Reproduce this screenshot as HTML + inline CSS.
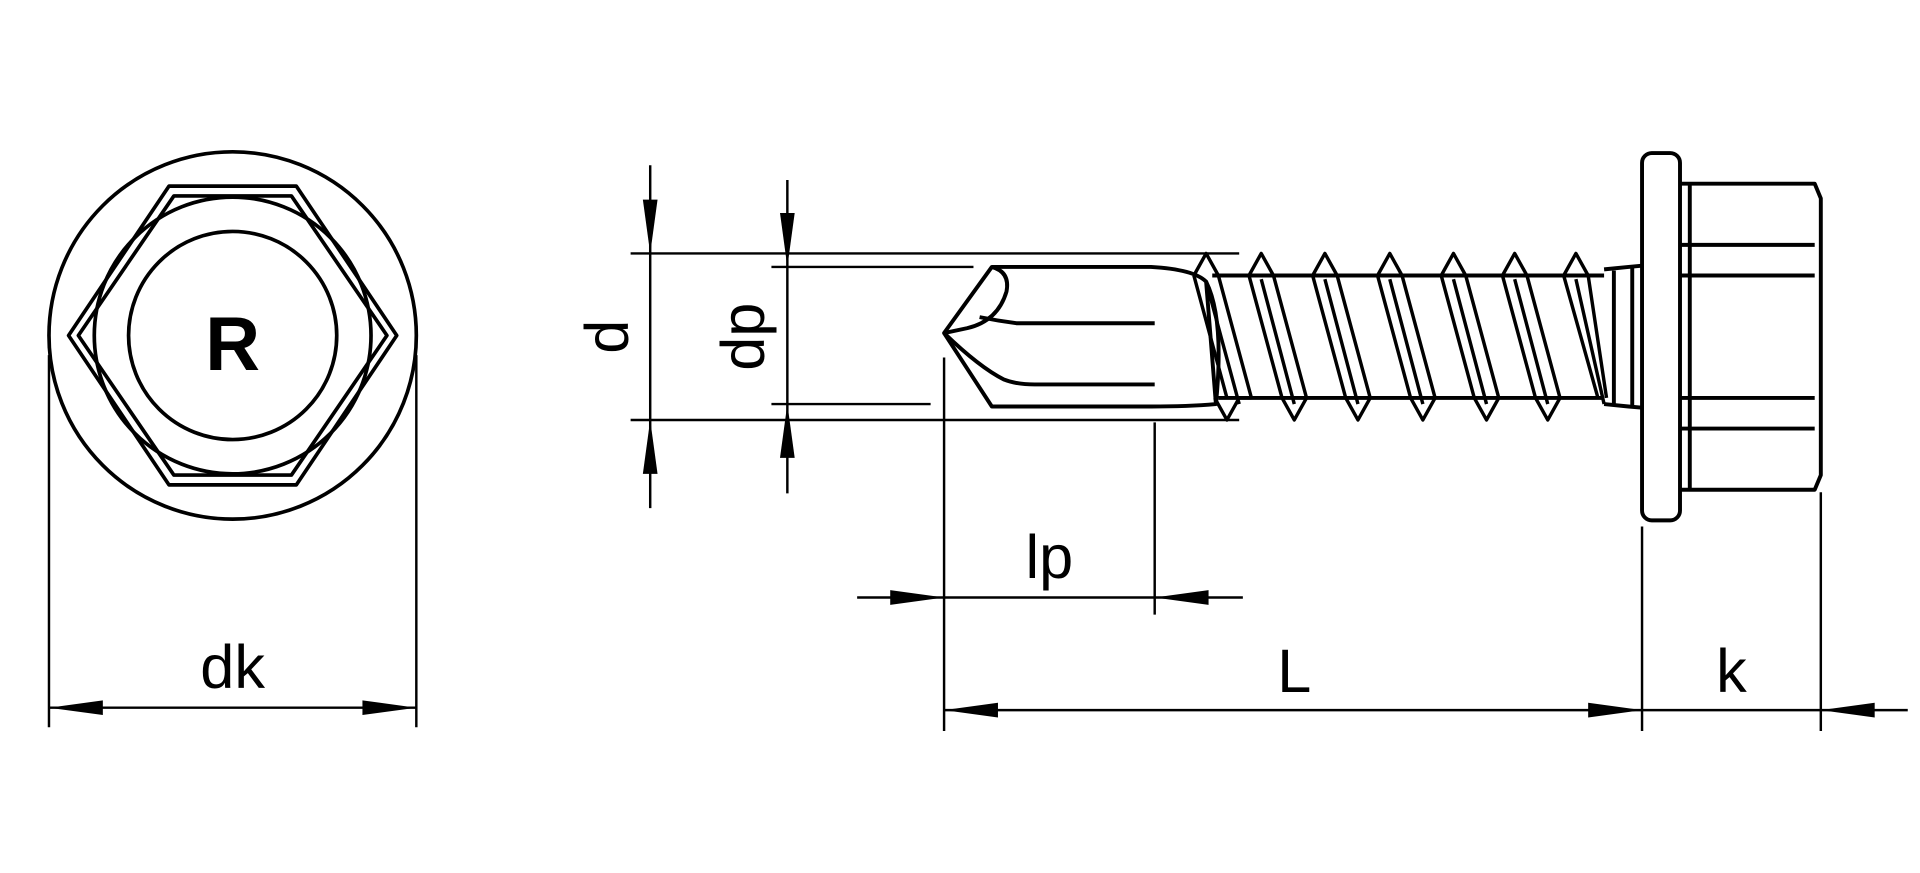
<!DOCTYPE html>
<html><head><style>
html,body{margin:0;padding:0;background:#fff;}
svg{display:block;}
text{font-family:"Liberation Sans",sans-serif;fill:#000;}
</style></head><body>
<svg width="1920" height="873" viewBox="0 0 1568 713" preserveAspectRatio="none" xmlns="http://www.w3.org/2000/svg">
<g fill="none" stroke="#000" stroke-width="3" stroke-linejoin="round">
<circle cx="190" cy="274" r="150"/>
<circle cx="190" cy="274" r="113"/>
<circle cx="190" cy="274" r="85"/>
<polygon points="138,152 242,152 324,274 242,396 138,396 56,274"/>
<polygon points="142,160 238,160 316,274 238,388 142,388 64,274"/>
<line x1="40" y1="290" x2="40" y2="594" stroke-width="2"/>
<line x1="340" y1="290" x2="340" y2="594" stroke-width="2"/>
<line x1="40" y1="578" x2="340" y2="578" stroke-width="2"/>
</g>
<text x="190" y="302" font-size="62" font-weight="bold" text-anchor="middle">R</text>
<text x="190" y="562" font-size="50" text-anchor="middle">dk</text>
<g fill="#000" stroke="none">
<polygon points="40,578 84,572 84,584"/>
<polygon points="340,578 296,572 296,584"/>
</g>

<g fill="none" stroke="#000" stroke-width="3.2" stroke-linejoin="round">
<path d="M810,218 L940,218 Q975,220 985,230 L993,330 Q970,332 940,332 L810,332 L771,272 Z"/>
<path d="M810,218 Q825,222 822,238 Q815,262 790,268 L771,272"/>
<path d="M771,272 Q800,300 820,310 Q830,314 845,314 L943,314"/>
<path d="M800,259 Q815,262 830,264 L943,264"/>
<path d="M985,230 Q1000,260 993,330"/>
<line x1="990" y1="225" x2="1310" y2="225"/>
<line x1="995" y1="325" x2="1310" y2="325"/>
<path d="M1310,220 L1330,218 L1341,217"/>
<path d="M1310,330 L1330,332 L1341,333"/>
<line x1="1318" y1="221" x2="1318" y2="330"/>
<line x1="1333" y1="218" x2="1333" y2="332"/>
<g stroke-width="2.8">
<path d="M975,225 L985,207 L995,225 M975,225 L1002,325 M995,225 L1022,325 M985,230 L1012,330 M992,325 L1002,343 L1012,325 L1022,325"/>
<path d="M1020,225 L1030,207 L1040,225 M1020,225 L1047,325 M1040,225 L1067,325 M1030,228 L1057,330 M1047,325 L1057,343 L1067,325"/>
<path d="M1072,225 L1082,207 L1092,225 M1072,225 L1099,325 M1092,225 L1119,325 M1082,228 L1109,330 M1099,325 L1109,343 L1119,325"/>
<path d="M1125,225 L1135,207 L1145,225 M1125,225 L1152,325 M1145,225 L1172,325 M1135,228 L1162,330 M1152,325 L1162,343 L1172,325"/>
<path d="M1177,225 L1187,207 L1197,225 M1177,225 L1204,325 M1197,225 L1224,325 M1187,228 L1214,330 M1204,325 L1214,343 L1224,325"/>
<path d="M1227,225 L1237,207 L1247,225 M1227,225 L1254,325 M1247,225 L1274,325 M1237,228 L1264,330 M1254,325 L1264,343 L1274,325"/>
<path d="M1277,225 L1287,207 L1297,225 M1277,225 L1305,325 M1297,225 L1312,325 M1287,228 L1310,330"/>
</g>
<rect x="1341" y="125" width="31" height="300" rx="8"/>
<path d="M1372,150 L1482,150 L1487,162 L1487,388 L1482,400 L1372,400"/>
<line x1="1380" y1="150" x2="1380" y2="400"/>
<line x1="1372" y1="200" x2="1482" y2="200"/>
<line x1="1372" y1="225" x2="1482" y2="225"/>
<line x1="1372" y1="325" x2="1482" y2="325"/>
<line x1="1372" y1="350" x2="1482" y2="350"/>
</g>

<g fill="none" stroke="#000" stroke-width="2">
<line x1="515" y1="207" x2="1012" y2="207"/>
<line x1="515" y1="343" x2="1012" y2="343"/>
<line x1="630" y1="218" x2="795" y2="218"/>
<line x1="630" y1="330" x2="760" y2="330"/>
<line x1="531" y1="135" x2="531" y2="415"/>
<line x1="643" y1="147" x2="643" y2="403"/>
<line x1="771" y1="292" x2="771" y2="597"/>
<line x1="943" y1="345" x2="943" y2="502"/>
<line x1="700" y1="488" x2="1015" y2="488"/>
<line x1="1341" y1="430" x2="1341" y2="597"/>
<line x1="1487" y1="402" x2="1487" y2="597"/>
<line x1="771" y1="580" x2="1558" y2="580"/>
</g>
<g fill="#000">
<polygon points="531,207 525,163 537,163"/>
<polygon points="531,343 525,387 537,387"/>
<polygon points="643,218 637,174 649,174"/>
<polygon points="643,330 637,374 649,374"/>
<polygon points="771,488 727,482 727,494"/>
<polygon points="943,488 987,482 987,494"/>
<polygon points="771,580 815,574 815,586"/>
<polygon points="1341,580 1297,574 1297,586"/>
<polygon points="1487,580 1531,574 1531,586"/>
</g>
<text x="857" y="472" font-size="50" text-anchor="middle">lp</text>
<text x="1057" y="565" font-size="50" text-anchor="middle">L</text>
<text x="1414" y="565" font-size="50" text-anchor="middle">k</text>
<text transform="translate(513,275) rotate(-90)" font-size="50" text-anchor="middle">d</text>
<text transform="translate(624,275) rotate(-90)" font-size="50" text-anchor="middle">dp</text>
</svg>
</body></html>
